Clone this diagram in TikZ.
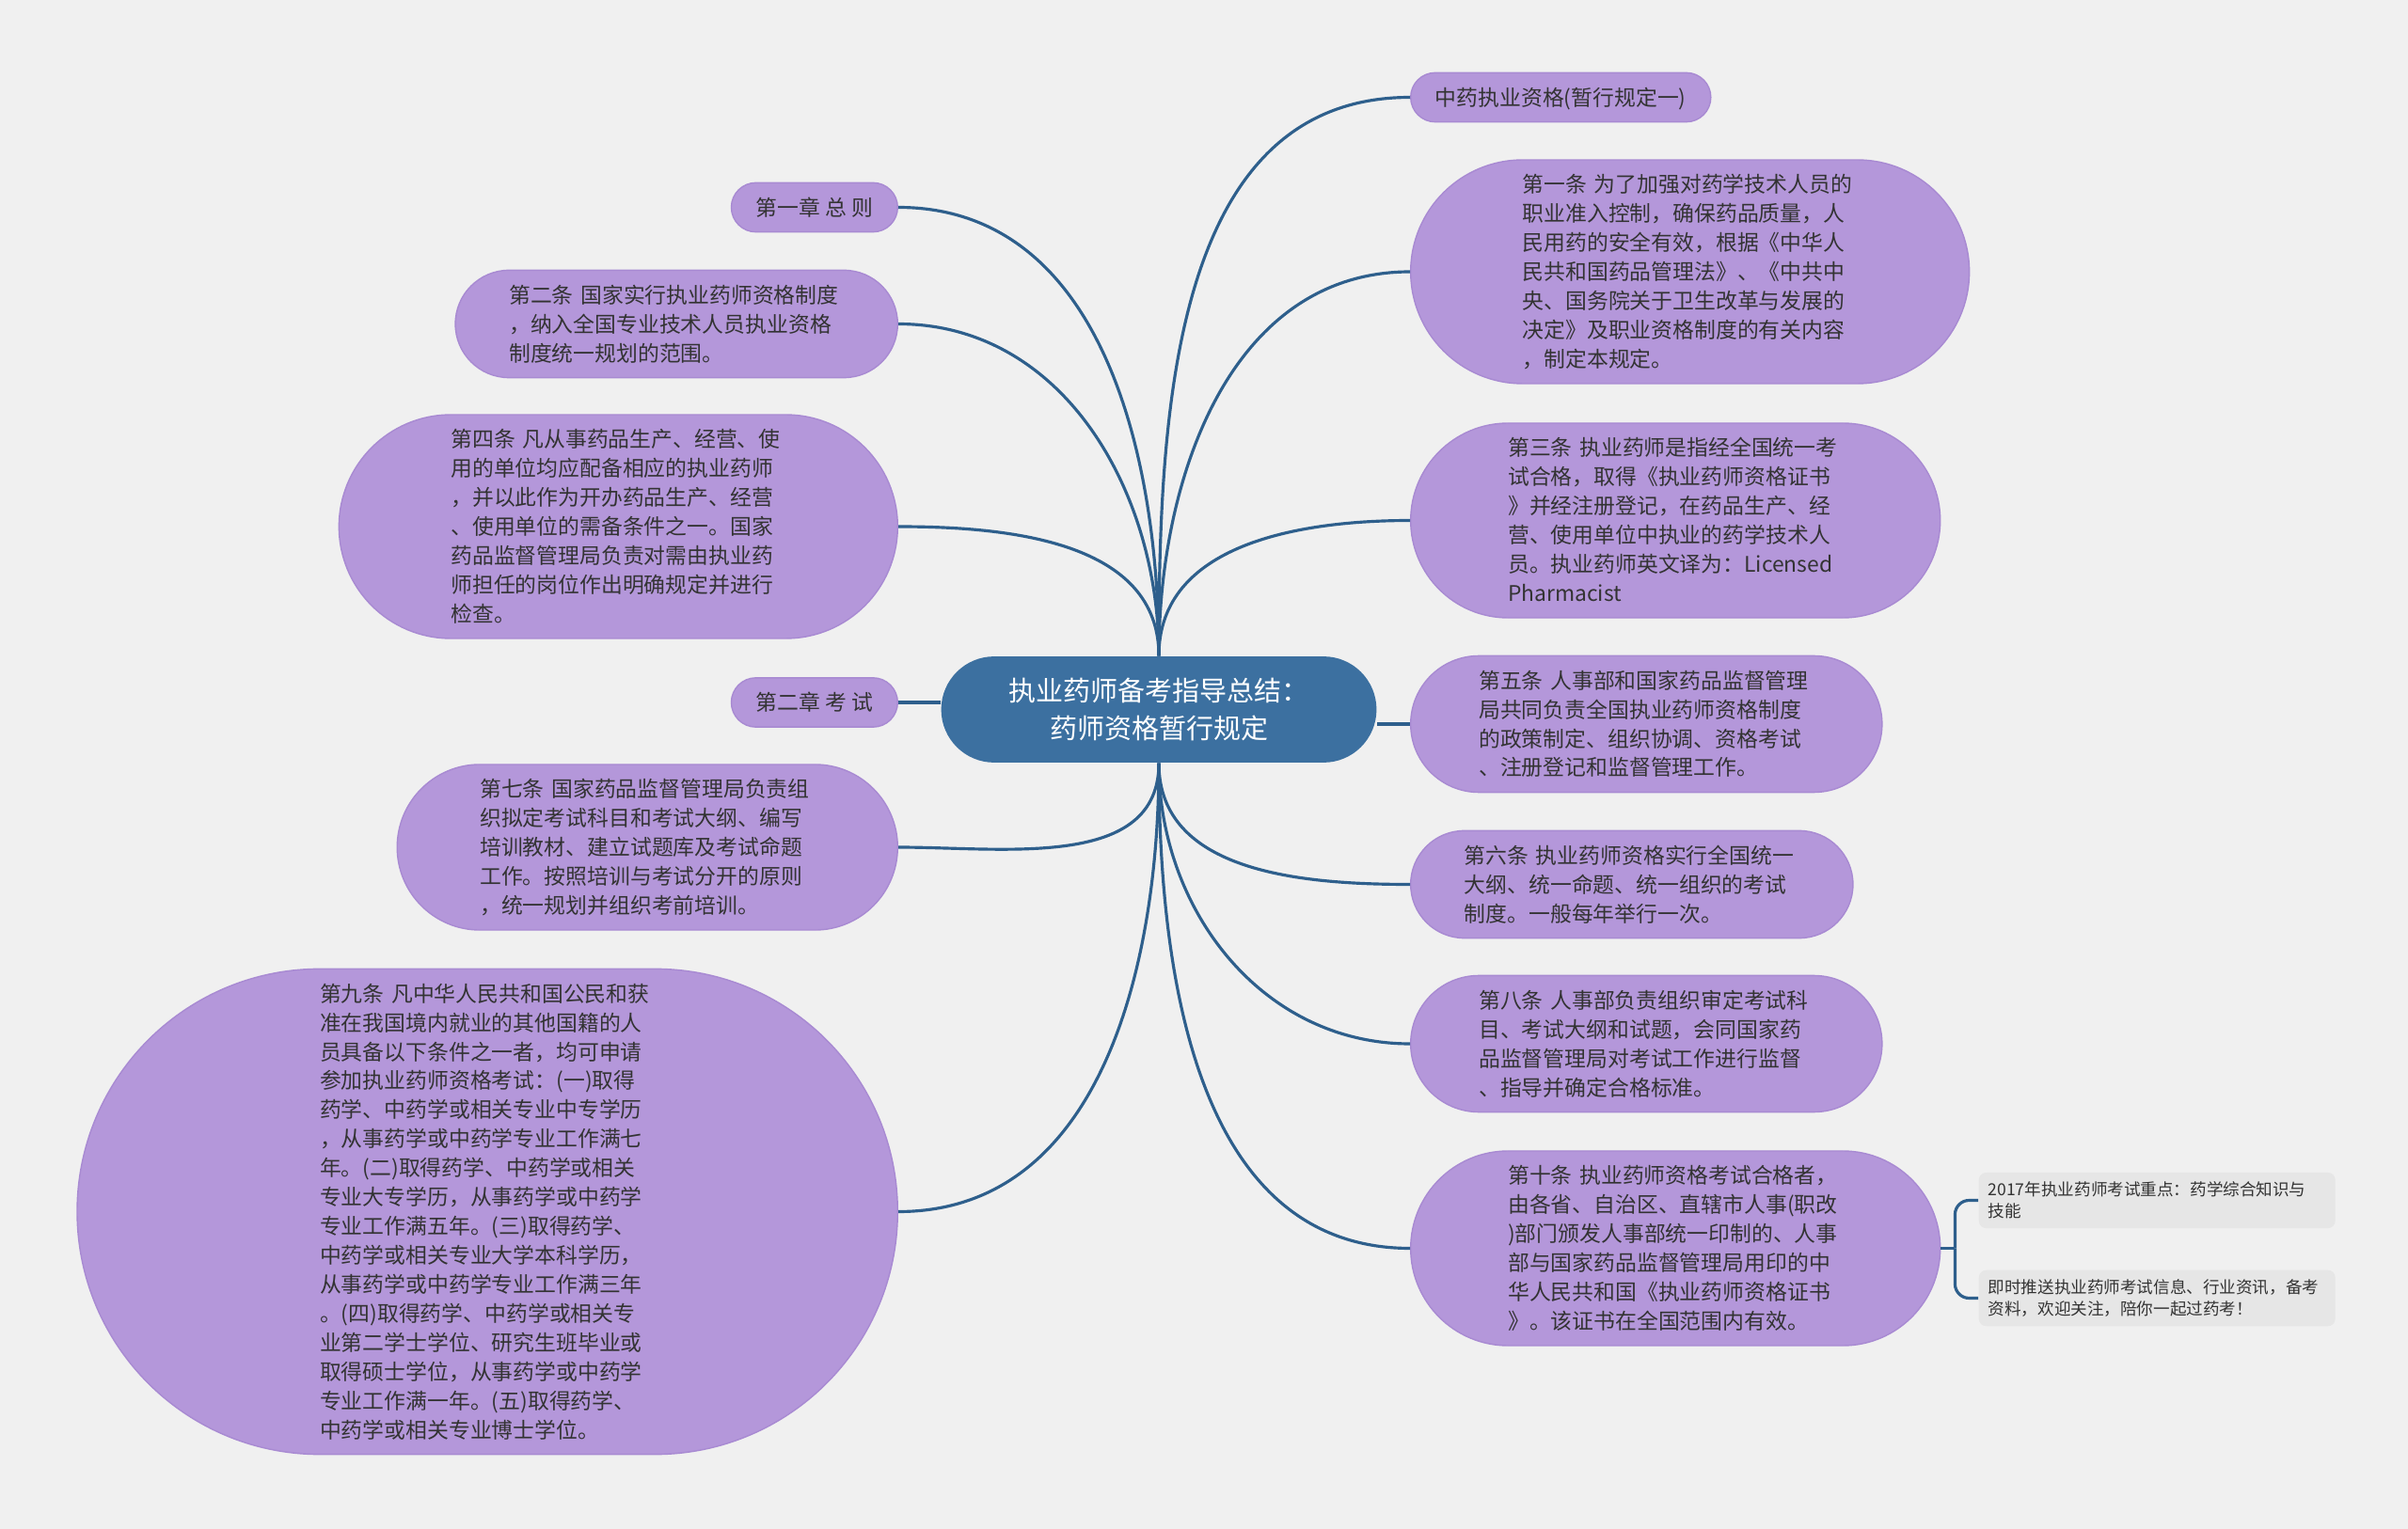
\documentclass[tikz,border=0pt]{standalone}
\usepackage{fontspec}
\setmainfont{Noto Sans CJK SC}
\usepackage{xcolor}
\usetikzlibrary{shapes.misc, positioning}

\definecolor{bgGray}{HTML}{F0F0F0}
\definecolor{leafPurple}{HTML}{B497DA}
\definecolor{leafEdge}{HTML}{A88AD2}
\definecolor{rootBlue}{HTML}{3C70A0}
\definecolor{linkBlue}{HTML}{2E5F8C}
\definecolor{tipGray}{HTML}{E6E6E6}
\definecolor{textGray}{HTML}{333333}

\begin{document}
\begin{tikzpicture}[
        % padding goes into the text box, so the ends stay half circles
        root/.style={rounded rectangle, fill=rootBlue, text=white, text width=3.3cm, align=center, inner xsep=0.1cm, inner ysep=0pt, font=\fontsize{8.25pt}{11.4pt}\selectfont,
            execute at begin node={\rule{0pt}{13.4pt}}, execute at end node={\rule[-7.3pt]{0pt}{7.3pt}}},
        leaf/.style={rounded rectangle, fill=leafPurple, draw=leafEdge, line width=0.4pt, text=textGray, inner xsep=0pt, inner ysep=0pt, font=\fontsize{6.5pt}{8.8pt}\selectfont,
            execute at begin node={\rule{0pt}{9.9pt}}, execute at end node={\rule[-5pt]{0pt}{5pt}}},
        article/.style={leaf, text width=3.56cm, align=left},
        tip/.style={rounded corners=0.08cm, fill=tipGray, text=textGray, text width=3.59cm, align=left, inner xsep=0.1cm, inner ysep=0.1cm, font=\fontsize{5pt}{6.5pt}\selectfont},
        link/.style={draw=linkBlue, line width=0.9pt}
    ]

    % --- Canvas ---
    \fill[bgGray] (0,0) rectangle (25.6,-16.26);
    \useasboundingbox (0,0) rectangle (25.6,-16.26);

    % --- Root ---
    \node[root] (root) at (12.32, -7.545) {执业药师备考指导总结：\\药师资格暂行规定};

    % --- Left branches ---
    \node[leaf, anchor=east] (ch1) at (9.55, -2.205) {第一章 总 则};
    \node[article, anchor=east] (t2) at (9.55, -3.445) {第二条 国家实行执业药师资格制度\\，纳入全国专业技术人员执业资格\\制度统一规划的范围。};
    \node[article, anchor=east] (t4) at (9.55, -5.60) {第四条 凡从事药品生产、经营、使\\用的单位均应配备相应的执业药师\\，并以此作为开办药品生产、经营\\、使用单位的需备条件之一。国家\\药品监督管理局负责对需由执业药\\师担任的岗位作出明确规定并进行\\检查。};
    \node[leaf, anchor=east] (ch2) at (9.55, -7.47) {第二章 考 试};
    \node[article, anchor=east] (t7) at (9.55, -9.01) {第七条 国家药品监督管理局负责组\\织拟定考试科目和考试大纲、编写\\培训教材、建立试题库及考试命题\\工作。按照培训与考试分开的原则\\，统一规划并组织考前培训。};
    \node[article, anchor=east] (t9) at (9.55, -12.885) {第九条 凡中华人民共和国公民和获\\准在我国境内就业的其他国籍的人\\员具备以下条件之一者，均可申请\\参加执业药师资格考试：(一)取得\\药学、中药学或相关专业中专学历\\，从事药学或中药学专业工作满七\\年。(二)取得药学、中药学或相关\\专业大专学历，从事药学或中药学\\专业工作满五年。(三)取得药学、\\中药学或相关专业大学本科学历，\\从事药学或中药学专业工作满三年\\。(四)取得药学、中药学或相关专\\业第二学士学位、研究生班毕业或\\取得硕士学位，从事药学或中药学\\专业工作满一年。(五)取得药学、\\中药学或相关专业博士学位。};

    % --- Right branches ---
    \node[leaf, anchor=west] (zy) at (14.99, -1.035) {中药执业资格(暂行规定一)};
    \node[article, anchor=west] (t1) at (14.99, -2.89) {第一条 为了加强对药学技术人员的\\职业准入控制，确保药品质量，人\\民用药的安全有效，根据《中华人\\民共和国药品管理法》、《中共中\\央、国务院关于卫生改革与发展的\\决定》及职业资格制度的有关内容\\，制定本规定。};
    \node[article, anchor=west] (t3) at (14.99, -5.535) {第三条 执业药师是指经全国统一考\\试合格，取得《执业药师资格证书\\》并经注册登记，在药品生产、经\\营、使用单位中执业的药学技术人\\员。执业药师英文译为：Licensed\\Pharmacist};
    \node[article, anchor=west] (t5) at (14.99, -7.70) {第五条 人事部和国家药品监督管理\\局共同负责全国执业药师资格制度\\的政策制定、组织协调、资格考试\\、注册登记和监督管理工作。};
    \node[article, anchor=west] (t6) at (14.99, -9.405) {第六条 执业药师资格实行全国统一\\大纲、统一命题、统一组织的考试\\制度。一般每年举行一次。};
    \node[article, anchor=west] (t8) at (14.99, -11.10) {第八条 人事部负责组织审定考试科\\目、考试大纲和试题，会同国家药\\品监督管理局对考试工作进行监督\\、指导并确定合格标准。};
    \node[article, anchor=west] (t10) at (14.99, -13.275) {第十条 执业药师资格考试合格者，\\由各省、自治区、直辖市人事(职改\\)部门颁发人事部统一印制的、人事\\部与国家药品监督管理局用印的中\\华人民共和国《执业药师资格证书\\》。该证书在全国范围内有效。};

    % --- Notes on the last article ---
    \node[tip, anchor=west] (tip1) at (21.03, -12.765) {2017年执业药师考试重点：药学综合知识与\\技能};
    \node[tip, anchor=west] (tip2) at (21.03, -13.805) {即时推送执业药师考试信息、行业资讯，备考\\资料，欢迎关注，陪你一起过药考！};
    \coordinate[right=0.15cm of t10.east] (brace);

    % --- Connectors ---
    \draw[link] (root.north) to[out=90, in=0] (ch1.east);
    \draw[link] (root.north) to[out=90, in=0] (t2.east);
    \draw[link] (root.north) to[out=90, in=0] (t4.east);
    \draw[link] (root.west |- ch2.east) -- (ch2.east);
    \draw[link] (root.south) to[out=-90, in=0] (t7.east);
    \draw[link] (root.south) to[out=-90, in=0] (t9.east);

    \draw[link] (root.north) to[out=90, in=180] (zy.west);
    \draw[link] (root.north) to[out=90, in=180] (t1.west);
    \draw[link] (root.north) to[out=90, in=180] (t3.west);
    \draw[link] (root.east |- t5.west) -- (t5.west);
    \draw[link] (root.south) to[out=-90, in=180] (t6.west);
    \draw[link] (root.south) to[out=-90, in=180] (t8.west);
    \draw[link] (root.south) to[out=-90, in=180] (t10.west);

    \draw[link] (t10.east) -- (brace);
    \draw[link, rounded corners=0.15cm] (brace) |- (tip1.west);
    \draw[link, rounded corners=0.15cm] (brace) |- (tip2.west);

\end{tikzpicture}
\end{document}
